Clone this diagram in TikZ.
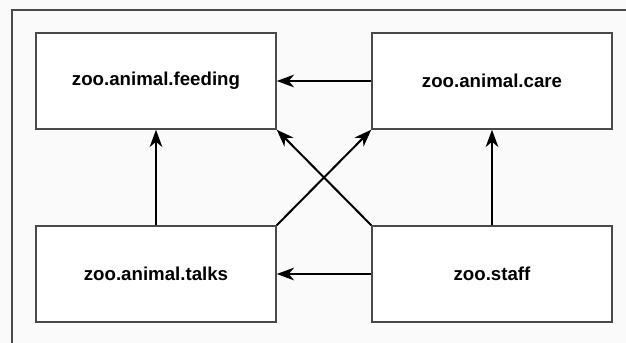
\documentclass[tikz,border=0pt]{standalone}
\usepackage{fontspec}
\setmainfont{Liberation Sans}
\usepackage{tikz}
\usetikzlibrary{arrows.meta}

\definecolor{pagebg}{HTML}{FAFAFA}
\definecolor{boxline}{HTML}{4A4A4A}

\begin{document}
\begin{tikzpicture}[
    x=0.75pt, y=-0.75pt,
    every node/.style={font=\fontsize{14}{16}\selectfont\bfseries},
    modbox/.style={rectangle, draw=boxline, fill=white, line width=1.1pt, minimum width=180pt, minimum height=72pt, inner sep=0pt},
    dep/.style={-{Stealth[length=13pt, width=9.5pt, inset=4pt]}, line width=1.5pt, black}
]

% Frame
\useasboundingbox (0,0) rectangle (626,343);
\clip (0,0) rectangle (626,343);
\fill[pagebg] (-5,-5) rectangle (640,360);
\draw[boxline, line width=1.1pt] (12,10) rectangle (660,380);

% Top row
\node[modbox] (feeding) at (156,81) {zoo.animal.feeding};
\node[modbox] (care) at (492,81) {zoo.animal.care};

% Bottom row
\node[modbox] (talks) at (156,274) {zoo.animal.talks};
\node[modbox] (staff) at (492,274) {zoo.staff};

% Dependencies
\draw[dep] (care.west) -- (feeding.east);
\draw[dep] (talks.north) -- (feeding.south);
\draw[dep] (staff.north) -- (care.south);
\draw[dep] (staff.west) -- (talks.east);
\draw[dep] (staff.north west) -- (feeding.south east);
\draw[dep] (talks.north east) -- (care.south west);

\end{tikzpicture}
\end{document}
